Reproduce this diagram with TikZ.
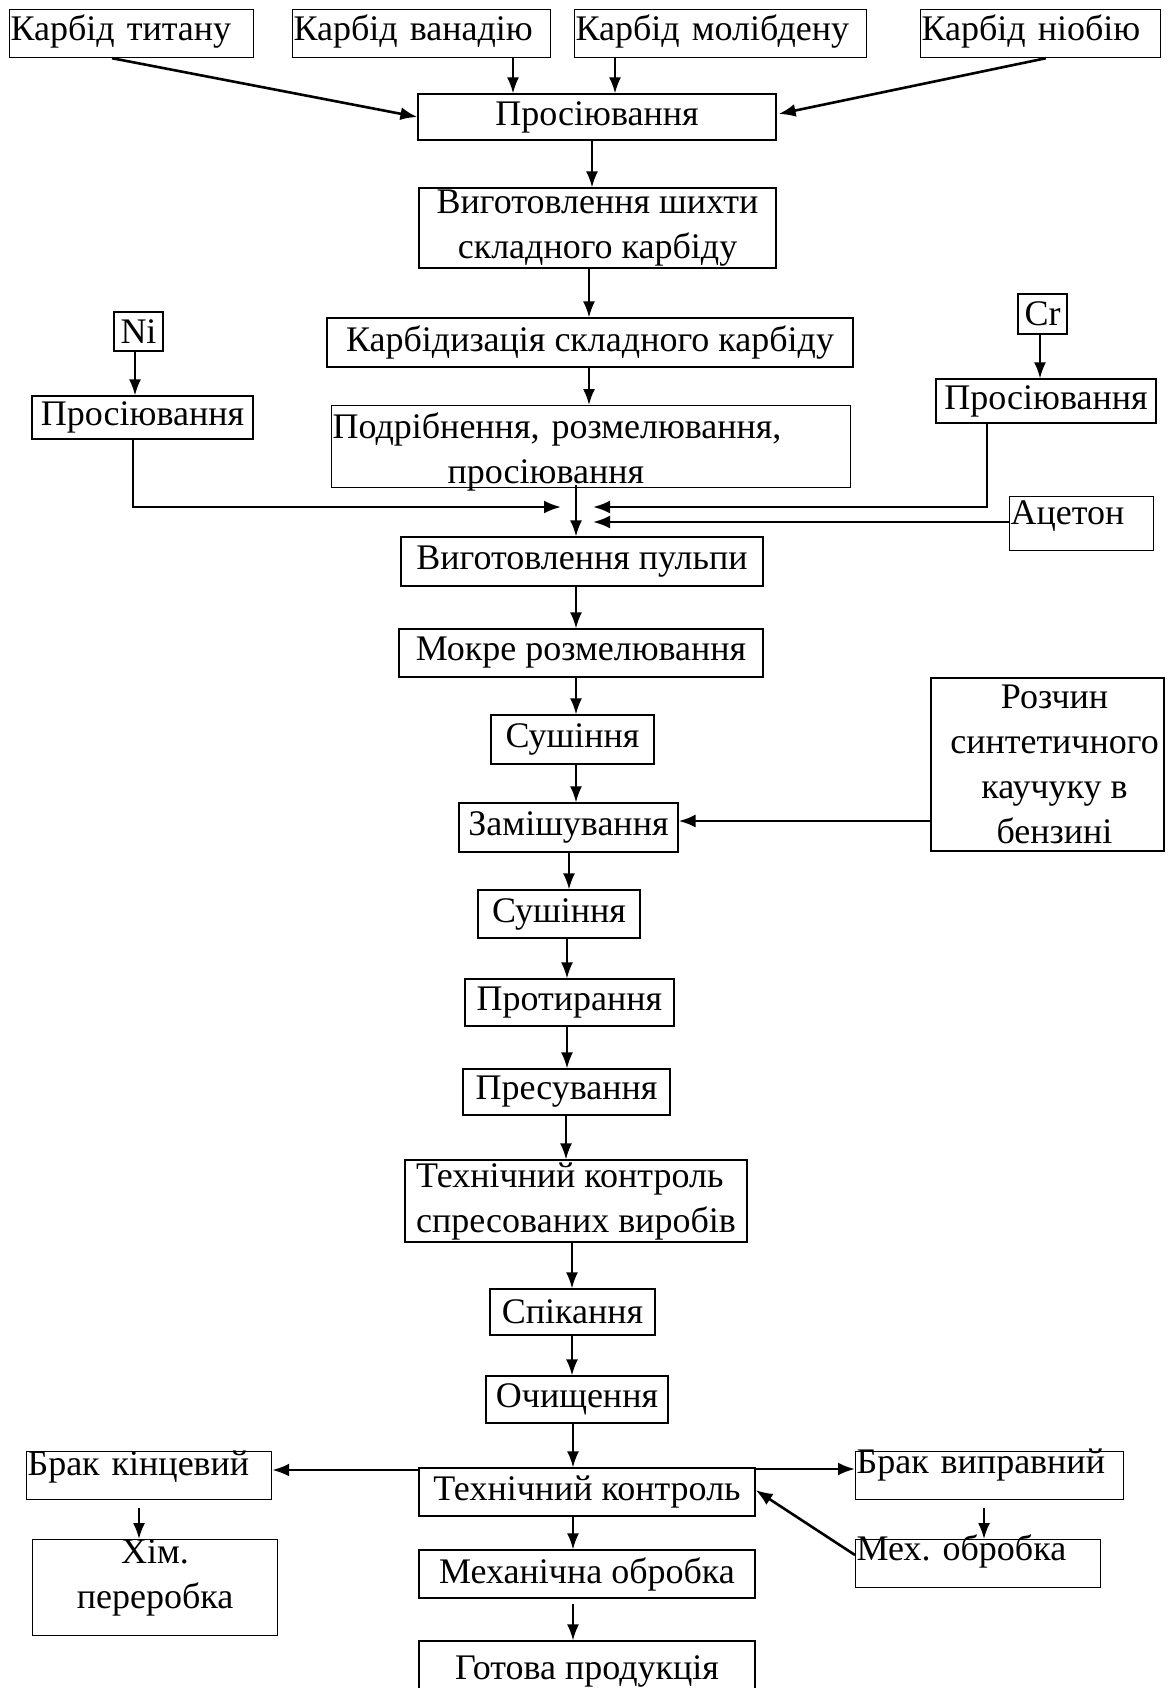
\documentclass[tikz,border=0pt]{standalone}
\usepackage{fontspec}
\setmainfont{Liberation Serif}
\usetikzlibrary{arrows.meta,calc}
\newcommand\fsz{\fontsize{36}{45}\selectfont}
\frenchspacing
\begin{document}
\begin{tikzpicture}[x=1pt,y=-1pt,
  box/.style={draw, line width=1.2pt, font=\fsz},
  cbox/.style={box, inner sep=0pt, align=center},
  lbox/.style={box, anchor=north west, align=left, inner xsep=1pt, inner ysep=2pt},
  arr/.style={line width=2pt, -{Latex[length=16pt,width=12pt]}},
  tarr/.style={line width=2.6pt, -{Latex[length=17pt,width=13pt]}},
  ln/.style={line width=2pt}]
\useasboundingbox (0,0) rectangle (1167,1688);
% top row
\node[lbox, text width=242pt, text height=29pt, text depth=15pt] (titan) at (9,9) {Карбід титану};
\node[lbox, text width=256pt, text height=29pt, text depth=15pt] (vanad) at (292,9) {Карбід ванадію};
\node[lbox, text width=290pt, text height=29pt, text depth=15pt] (molib) at (574,9) {Карбід молібдену};
\node[lbox, text width=238pt, text height=29pt, text depth=15pt] (niob) at (920,9) {Карбід ніобію};
\node[cbox, minimum width=358pt, minimum height=46pt] (pros1) at (597,117) {Просіювання};
\node[cbox, minimum width=357pt, minimum height=80pt] (shykhta) at (597.5,228) {Виготовлення шихти\\ складного карбіду};
\node[cbox, minimum width=526pt, minimum height=49pt] (karbid) at (590,342.5) {Карбідизація складного карбіду};
\node[lbox, text width=517pt, text height=31pt, text depth=47pt] (podr) at (331,405) {Подрібнення, розмелювання,\\\hspace*{115pt}просіювання};
% side inputs
\node[cbox, minimum width=49pt, minimum height=39pt] (ni) at (138.5,331.5) {Ni};
\node[cbox, minimum width=221pt, minimum height=43pt] (prosL) at (142.5,417.5) {Просіювання};
\node[cbox, minimum width=49pt, minimum height=40pt] (cr) at (1042.5,314) {Cr};
\node[cbox, minimum width=220pt, minimum height=44pt] (prosR) at (1046,401) {Просіювання};
\node[lbox, text width=142pt, text height=26pt, text depth=24pt] (aceton) at (1009,496) {Ацетон};
% main column
\node[cbox, minimum width=362pt, minimum height=49pt] (pulpa) at (582,561.5) {Виготовлення пульпи};
\node[cbox, minimum width=364pt, minimum height=48pt] (mokre) at (581,653) {Мокре розмелювання};
\node[cbox, minimum width=163pt, minimum height=49pt] (sush1) at (572.5,739.5) {Сушіння};
\node[cbox, minimum width=219pt, minimum height=49pt] (zamish) at (568.5,827.5) {Замішування};
\node[cbox, minimum width=233pt, minimum height=173pt] (rozchyn) at (1047.5,764.5) {\hspace*{14pt}Розчин\\\hspace*{14pt}синтетичного\\\hspace*{14pt}каучуку в\\\hspace*{14pt}бензині};
\node[cbox, minimum width=162pt, minimum height=48pt] (sush2) at (559,914) {Сушіння};
\node[cbox, minimum width=209pt, minimum height=47pt] (protyr) at (569.5,1002.5) {Протирання};
\node[cbox, minimum width=207pt, minimum height=46pt] (presuv) at (566.5,1092) {Пресування};
\node[box, minimum width=342pt, minimum height=82pt, inner sep=0pt, align=left] (tk1) at (576,1201) {Технічний контроль\\спресованих виробів};
\node[cbox, minimum width=165pt, minimum height=46pt] (spik) at (572.5,1312) {Спікання};
\node[cbox, minimum width=182pt, minimum height=47pt] (ochysh) at (577,1399.5) {Очищення};
\node[cbox, minimum width=336pt, minimum height=48pt] (tk2) at (587,1492) {Технічний контроль};
\node[lbox, text width=243pt, text height=22pt, text depth=22pt] (brakK) at (26,1451) {Брак кінцевий};
\node[lbox, text width=266pt, text height=20pt, text depth=24pt] (brakV) at (855,1451) {Брак виправний};
\node[lbox, text width=243pt, align=center, text height=22pt, text depth=70pt] (khim) at (32,1539) {Хім.\hspace*{12pt}\\переробка\hspace*{12pt}};
\node[lbox, text width=243pt, text height=19pt, text depth=25pt] (meh) at (855,1539) {Мех. обробка};
\node[cbox, minimum width=336pt, minimum height=48pt] (mehan) at (587,1574) {Механічна обробка};
\node[cbox, minimum width=336pt, minimum height=60pt] (gotova) at (587,1671) {Готова продукція};
% junction points
\coordinate (jL) at (561,507);
\coordinate (jR) at (593,507);
\coordinate (jA) at (593,522);
% arrows top
\draw[tarr] ($(titan.south west)+(103,0)$) -- (pros1.west);
\draw[arr] (513,0 |- vanad.south) -- (513,0 |- pros1.north);
\draw[arr] (615,0 |- molib.south) -- (615,0 |- pros1.north);
\draw[tarr] ($(niob.south west)+(126,0)$) -- ($(pros1.east)+(2,-3)$);
\draw[arr] (592,0 |- pros1.south) -- (592,0 |- shykhta.north);
\draw[arr] (589,0 |- shykhta.south) -- (589,0 |- karbid.north);
\draw[arr] (589,0 |- karbid.south) -- (589,0 |- podr.north);
\draw[arr] (576,485) -- (576,0 |- pulpa.north);
\draw[arr] (135,0 |- ni.south) -- (135,0 |- prosL.north);
\draw[arr] (1040,0 |- cr.south) -- (1040,0 |- prosR.north);
\draw[tarr] (133,0 |- prosL.south) |- (jL);
\draw[tarr] (987,0 |- prosR.south) |- (jR);
\draw[tarr] (aceton.west |- jA) -- (jA);
% main column arrows
\draw[arr] (576,0 |- pulpa.south) -- (576,0 |- mokre.north);
\draw[arr] (576,0 |- mokre.south) -- (576,0 |- sush1.north);
\draw[arr] (576,0 |- sush1.south) -- (576,0 |- zamish.north);
\draw[tarr] (rozchyn.west |- 0,821) -- (zamish.east |- 0,821);
\draw[arr] (569,0 |- zamish.south) -- (569,0 |- sush2.north);
\draw[arr] (567,0 |- sush2.south) -- (567,0 |- protyr.north);
\draw[arr] (567,0 |- protyr.south) -- (567,0 |- presuv.north);
\draw[arr] (566,0 |- presuv.south) -- (566,0 |- tk1.north);
\draw[arr] (572,0 |- tk1.south) -- (572,0 |- spik.north);
\draw[arr] (572,0 |- spik.south) -- (572,0 |- ochysh.north);
\draw[arr] (573,0 |- ochysh.south) -- (573,0 |- tk2.north);
\draw[tarr] (tk2.west |- 0,1470) -- (brakK.east |- 0,1470);
\draw[tarr] (tk2.east |- 0,1469) -- (brakV.west |- 0,1469);
\draw[arr] (139,1508) -- (139,0 |- khim.north);
\draw[arr] (984,1508) -- (984,0 |- meh.north);
\draw[tarr] (meh.west |- 0,1555) -- (tk2.east |- 0,1490);
\draw[arr] (573,0 |- tk2.south) -- (573,0 |- mehan.north);
\draw[arr] (573,1604) -- (573,0 |- gotova.north);
\end{tikzpicture}
\end{document}
